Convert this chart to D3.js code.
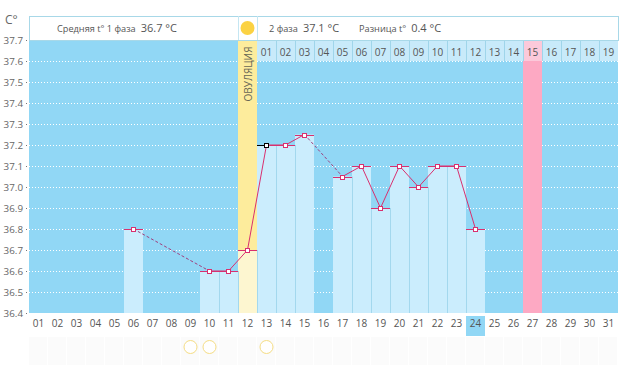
<!DOCTYPE html>
<html>
<head>
<meta charset="utf-8">
<script src="https://cdn.jsdelivr.net/npm/d3@7"></script>
<style>
html, body { margin: 0; padding: 0; background: #fff; overflow: hidden; }
svg { display: block; }
text { font-family: "Open Sans", sans-serif; fill: #555; }
</style>
</head>
<body>
<svg id="chart" width="626" height="365"></svg>
<script>
var monthDays = d3.range(1, 32).map(function(d) { return d3.format('02')(d); });
var cycleDays = ['01','02','03','04','05','06','07','08','09','10','11','12','13','14','15','16','17','18','19'];
var tempTicks = [36.4, 36.5, 36.6, 36.7, 36.8, 36.9, 37.0, 37.1, 37.2, 37.3, 37.4, 37.5, 37.6, 37.7];
var measuredDays = ['06','10','11','12','13','14','15','17','18','19','20','21','22','23','24'];
var measuredTemps = [36.8, 36.6, 36.6, 36.7, 37.2, 37.2, 37.25, 37.05, 37.1, 36.9, 37.1, 37.0, 37.1, 37.1, 36.8];
var circleDays = ['09', '10', '13'];
var ovulationDay = '12';
var firstCycleDay = '13';
var peakDay = '27';
var todayDay = '24';
var selectedDay = '13';

var svg = d3.select('#chart');

var xScale = d3.scaleBand().domain(monthDays).range([29, 618]);
var yScale = d3.scaleLinear().domain([36.4, 37.7]).range([313, 40]);
var colW = xScale.bandwidth();
var headTop = 16, headBottom = 40, rowBottom = yScale(37.6), bottom = yScale(36.4);

var points = measuredDays.map(function(d, i) {
    return { day: d, temp: measuredTemps[i] };
});

/* Background */
svg.append('rect')
    .attr('x', 29).attr('y', headBottom)
    .attr('width', 589).attr('height', bottom - headBottom)
    .style('fill', '#91d7f5');

/* Grid */
svg.append('g').selectAll('line')
    .data(tempTicks.slice(0, -1))
    .join('line')
    .attr('x1', 29).attr('x2', 618)
    .attr('y1', function(d) { return Math.round(yScale(d)) + 0.5; })
    .attr('y2', function(d) { return Math.round(yScale(d)) + 0.5; })
    .style('stroke', '#fff')
    .style('stroke-dasharray', '1,2');

/* Cycle day row */
var secondPhaseDays = monthDays.slice(monthDays.indexOf(firstCycleDay));
svg.append('g').selectAll('rect')
    .data(secondPhaseDays)
    .join('rect')
    .attr('x', function(d) { return xScale(d); })
    .attr('y', headBottom)
    .attr('width', colW)
    .attr('height', rowBottom - headBottom)
    .style('fill', function(d) { return d === peakDay ? '#fcc9da' : '#c8eafa'; });

svg.append('g').selectAll('line')
    .data(secondPhaseDays.slice(1))
    .join('line')
    .attr('x1', function(d) { return xScale(d) + 0.5; })
    .attr('x2', function(d) { return xScale(d) + 0.5; })
    .attr('y1', headBottom)
    .attr('y2', rowBottom)
    .style('stroke', '#9fd5ea');

svg.append('g').selectAll('text')
    .data(cycleDays)
    .join('text')
    .attr('x', function(d, i) { return xScale(secondPhaseDays[i]) + colW / 2; })
    .attr('y', 56)
    .attr('text-anchor', 'middle')
    .style('font-size', '10px')
    .text(function(d) { return d; });

/* Peak column */
svg.append('rect')
    .attr('x', xScale(peakDay)).attr('y', rowBottom)
    .attr('width', colW).attr('height', bottom - rowBottom)
    .style('fill', '#fda9c3');

/* Ovulation column */
svg.append('rect')
    .attr('x', xScale(ovulationDay)).attr('y', headBottom)
    .attr('width', colW).attr('height', bottom - headBottom)
    .style('fill', '#fdec9c');

/* Bars */
svg.append('g').selectAll('rect')
    .data(points)
    .join('rect')
    .attr('x', function(d) { return xScale(d.day); })
    .attr('y', function(d) { return yScale(d.temp); })
    .attr('width', colW)
    .attr('height', function(d) { return bottom - yScale(d.temp); })
    .style('fill', function(d) { return d.day === ovulationDay ? '#fdf6d0' : '#cbedfd'; });

// thin separator between neighbouring bars
svg.append('g').selectAll('line')
    .data(points.filter(function(d, i) {
        return i > 0 && +points[i - 1].day === +d.day - 1;
    }))
    .join('line')
    .attr('x1', function(d) { return xScale(d.day) + 0.5; })
    .attr('x2', function(d) { return xScale(d.day) + 0.5; })
    .attr('y1', function(d) {
        var prev = points[points.indexOf(d) - 1];
        return Math.max(yScale(d.temp), yScale(prev.temp));
    })
    .attr('y2', bottom)
    .style('stroke', '#a3d8ee');

/* Header */
svg.append('rect')
    .attr('x', 29.5).attr('y', headTop + 0.5)
    .attr('width', 589).attr('height', headBottom - headTop)
    .style('fill', '#fff')
    .style('stroke', '#a8d8e8');

svg.append('g').selectAll('line')
    .data([ovulationDay, firstCycleDay])
    .join('line')
    .attr('x1', function(d) { return xScale(d) + 0.5; })
    .attr('x2', function(d) { return xScale(d) + 0.5; })
    .attr('y1', headTop)
    .attr('y2', headBottom)
    .style('stroke', '#c5e6f2');

svg.append('circle')
    .attr('cx', xScale(ovulationDay) + colW / 2)
    .attr('cy', 28)
    .attr('r', 7)
    .style('fill', '#fbd243');

function headText(x, label, value) {
    var t = svg.append('text').attr('x', x).attr('y', 32);
    t.append('tspan').style('font-size', '9.2px').text(label);
    t.append('tspan').attr('dx', 5).style('font-size', '11px').text(value);
}
headText(57, 'Средняя t° 1 фаза', '36.7 °C');
headText(269, '2 фаза', '37.1 °C');
headText(359, 'Разница t°', '0.4 °C');

svg.append('text')
    .attr('transform', 'translate(' + (xScale(ovulationDay) + colW / 2 + 4) + ',74) rotate(-90)')
    .attr('text-anchor', 'middle')
    .style('font-size', '10px')
    .style('fill', '#665')
    .text('ОВУЛЯЦИЯ');

/* Temperature line */
var lineGenerator = d3.line()
    .x(function(d) { return xScale(d.day) + colW / 2; })
    .y(function(d) { return yScale(d.temp); });

var segments = d3.pairs(points);
svg.append('g').selectAll('path')
    .data(segments)
    .join('path')
    .attr('d', function(d) { return lineGenerator(d); })
    .style('fill', 'none')
    .style('stroke', function(d) {
        return +d[1].day - +d[0].day > 1 ? '#a0407f' : '#d9306f';
    })
    .style('stroke-dasharray', function(d) {
        return +d[1].day - +d[0].day > 1 ? '3,2' : null;
    });

// level mark across each measured day
svg.append('g').selectAll('line')
    .data(points)
    .join('line')
    .attr('x1', function(d) { return xScale(d.day); })
    .attr('x2', function(d) { return xScale(d.day) + colW; })
    .attr('y1', function(d) { return Math.round(yScale(d.temp)) + 0.5; })
    .attr('y2', function(d) { return Math.round(yScale(d.temp)) + 0.5; })
    .style('stroke', '#d9306f');

svg.append('line')
    .attr('x1', xScale(selectedDay))
    .attr('x2', xScale(selectedDay) + colW / 2)
    .attr('y1', Math.round(yScale(37.2)) + 0.5)
    .attr('y2', Math.round(yScale(37.2)) + 0.5)
    .style('stroke', '#000');

svg.append('g').selectAll('rect')
    .data(points)
    .join('rect')
    .attr('x', function(d) { return Math.round(xScale(d.day) + colW / 2) - 2.5; })
    .attr('y', function(d) { return Math.round(yScale(d.temp)) - 1.5; })
    .attr('width', 4)
    .attr('height', 4)
    .style('fill', '#fff')
    .style('stroke', function(d) { return d.day === selectedDay ? '#000' : '#d9306f'; });

/* Y axis */
var yAxis = d3.axisLeft(yScale)
    .tickValues(tempTicks)
    .tickSize(2)
    .tickPadding(2)
    .tickFormat(d3.format('.1f'));

var yAxisG = svg.append('g')
    .attr('transform', 'translate(27,0)')
    .call(yAxis);
yAxisG.select('.domain').remove();
yAxisG.selectAll('line').style('stroke', '#777').style('stroke-dasharray', '1,1');
yAxisG.selectAll('text').style('font-size', '9.8px').style('font-family', '"Open Sans", sans-serif').style('fill', '#666');

svg.append('text')
    .attr('x', 5).attr('y', 24)
    .style('font-size', '12px')
    .style('fill', '#666')
    .text('C°');

/* Bottom strip */
svg.append('g').selectAll('rect')
    .data(monthDays)
    .join('rect')
    .attr('x', function(d) { return xScale(d); })
    .attr('y', 337)
    .attr('width', colW - 1)
    .attr('height', 28)
    .style('fill', '#fbfbfb');

svg.append('rect')
    .attr('x', xScale(todayDay)).attr('y', 316)
    .attr('width', colW).attr('height', 20)
    .style('fill', '#91d7f5');

var xAxis = d3.axisBottom(xScale).tickSize(0).tickPadding(0);
var xAxisG = svg.append('g')
    .attr('transform', 'translate(0,320)')
    .call(xAxis);
xAxisG.select('.domain').remove();
xAxisG.selectAll('text').style('font-size', '10px').style('font-family', '"Open Sans", sans-serif').style('fill', '#555');

svg.append('g').selectAll('circle')
    .data(circleDays)
    .join('circle')
    .attr('cx', function(d) { return xScale(d) + colW / 2; })
    .attr('cy', 347)
    .attr('r', 6.5)
    .style('fill', '#fff')
    .style('stroke', '#f5dd85');
</script>
</body>
</html>
